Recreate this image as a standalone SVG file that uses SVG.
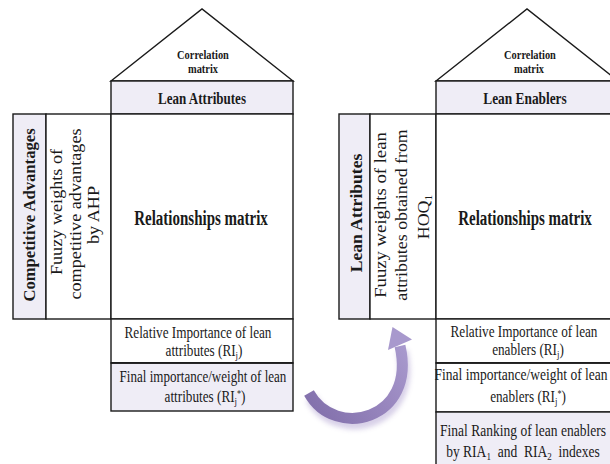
<svg xmlns="http://www.w3.org/2000/svg" width="610" height="464" viewBox="0 0 610 464">
<defs>
<style>
.ln{stroke:#1a1a1a;stroke-width:1.4;}
.wh{fill:#ffffff;}
.lv{fill:#efedf6;}
.t{font-family:"Liberation Serif","Times New Roman",serif;fill:#1a1a1a;}
.b{font-weight:bold;}
.c{text-anchor:middle;}
</style>
<linearGradient id="ag" gradientUnits="userSpaceOnUse" x1="309" y1="400" x2="405" y2="330">
<stop offset="0" stop-color="#8472ad"/>
<stop offset="0.5" stop-color="#9886be"/>
<stop offset="1" stop-color="#ab9dd0"/>
</linearGradient>
<filter id="blur" x="-20%" y="-20%" width="140%" height="140%">
<feGaussianBlur stdDeviation="2.5"/>
</filter>
</defs>
<rect x="0" y="0" width="610" height="464" fill="#ffffff"/>

<!-- LEFT HOUSE -->
<g id="roof-left">
<polygon class="wh ln" points="111,81 202,9 293,81"/>
<text class="t b c" font-size="13" transform="translate(203,59) scale(0.8,1)">Correlation</text>
<text class="t b c" font-size="13" transform="translate(203,73) scale(0.8,1)">matrix</text>
</g>
<g id="band-left">
<rect class="lv ln" x="111" y="81" width="182" height="33"/>
<text class="t b c" font-size="16.5" transform="translate(202,104) scale(0.79,1)">Lean Attributes</text>
</g>
<g id="col-competitive">
<rect class="lv ln" x="13" y="114" width="33" height="205"/>
<text class="t b c" font-size="16" transform="translate(34.5,215) rotate(-90) scale(1.04,1)">Competitive Advantages</text>
</g>
<g id="col-fuzzy-left">
<rect class="wh ln" x="46" y="114" width="65" height="205"/>
<text class="t c" font-size="17" transform="translate(62,212) rotate(-90) scale(1.07,1)">Fuuzy weights of</text>
<text class="t c" font-size="17" transform="translate(81,214) rotate(-90) scale(1.07,1)">competitive advantages</text>
<text class="t c" font-size="17" transform="translate(99,215) rotate(-90) scale(1.07,1)">by AHP</text>
</g>
<g id="matrix-left">
<rect class="wh ln" x="111" y="114" width="182" height="205"/>
<text class="t b c" font-size="20" transform="translate(201,225) scale(0.75,1)">Relationships matrix</text>
</g>
<g id="ri-left">
<rect class="wh ln" x="111" y="319" width="182" height="44"/>
<text class="t c" font-size="16.5" transform="translate(198,338) scale(0.8,1)">Relative Importance of lean</text>
<text class="t c" font-size="16.5" transform="translate(204,356) scale(0.8,1)">attributes (RI<tspan font-size="11" dy="3">j</tspan><tspan dy="-3">)</tspan></text>
</g>
<g id="fi-left">
<rect class="lv ln" x="111" y="363" width="182" height="48"/>
<line class="ln" x1="111" y1="363" x2="293" y2="363" stroke-width="2.6"/>
<text class="t c" font-size="16.5" transform="translate(203,382) scale(0.79,1)">Final importance/weight of lean</text>
<text class="t c" font-size="16.5" transform="translate(205,402) scale(0.8,1)">attributes (RI<tspan font-size="11" dy="3">j</tspan><tspan font-size="10" dy="-8">*</tspan><tspan dy="5">)</tspan></text>
</g>

<!-- RIGHT HOUSE -->
<g id="roof-right">
<polygon class="wh ln" points="436,81 527,9 618,81"/>
<text class="t b c" font-size="13" transform="translate(530,59) scale(0.8,1)">Correlation</text>
<text class="t b c" font-size="13" transform="translate(529,73) scale(0.8,1)">matrix</text>
</g>
<g id="band-right">
<rect class="lv ln" x="436" y="81" width="182" height="33"/>
<text class="t b c" font-size="16.5" transform="translate(525,104) scale(0.81,1)">Lean Enablers</text>
</g>
<g id="col-lean-attributes">
<rect class="lv ln" x="339" y="114" width="31" height="205"/>
<text class="t b c" font-size="16" transform="translate(361.5,213) rotate(-90) scale(1.1,1)">Lean Attributes</text>
</g>
<g id="col-fuzzy-right">
<rect class="wh ln" x="370" y="114" width="66" height="205"/>
<text class="t c" font-size="17" transform="translate(386,215) rotate(-90) scale(1.1,1)">Fuuzy weights of lean</text>
<text class="t c" font-size="17" transform="translate(407,215) rotate(-90) scale(1.05,1)">attributes obtained from</text>
<text class="t c" font-size="17" transform="translate(429,217) rotate(-90) scale(1.05,1)">HOQ<tspan font-size="11" dy="3">1</tspan></text>
</g>
<g id="matrix-right">
<rect class="wh ln" x="436" y="114" width="182" height="205"/>
<text class="t b c" font-size="20" transform="translate(525,225) scale(0.75,1)">Relationships matrix</text>
</g>
<g id="ri-right">
<rect class="wh ln" x="436" y="319" width="182" height="44"/>
<text class="t c" font-size="16.5" transform="translate(524,337) scale(0.8,1)">Relative Importance of lean</text>
<text class="t c" font-size="16.5" transform="translate(528,355) scale(0.8,1)">enablers (RI<tspan font-size="11" dy="3">j</tspan><tspan dy="-3">)</tspan></text>
</g>
<g id="fi-right">
<rect class="wh ln" x="436" y="363" width="182" height="49"/>
<line class="ln" x1="436" y1="363" x2="618" y2="363" stroke-width="2.6"/>
<text class="t c" font-size="16.5" transform="translate(521,380) scale(0.82,1)">Final importance/weight of lean</text>
<text class="t c" font-size="16.5" transform="translate(528,402) scale(0.8,1)">enablers (RI<tspan font-size="11" dy="3">j</tspan><tspan font-size="10" dy="-8">*</tspan><tspan dy="5">)</tspan></text>
</g>
<g id="rank-right">
<rect class="lv ln" x="436" y="412" width="182" height="60"/>
<text class="t c" font-size="16.5" transform="translate(523,436) scale(0.82,1)">Final Ranking of lean enablers</text>
<text class="t c" font-size="16.5" transform="translate(523,457) scale(0.82,1)">by RIA<tspan font-size="11" dy="3">1</tspan><tspan dy="-3">&#160; and&#160; RIA</tspan><tspan font-size="11" dy="3">2</tspan><tspan dy="-3">&#160; indexes</tspan></text>
</g>

<!-- CONNECTOR -->
<g id="connectors">
<g opacity="0.45" filter="url(#blur)" transform="translate(2,5)">
<path d="M309,393 C335,440 417,420 400,346" fill="none" stroke="#a898cc" stroke-width="12"/>
</g>
<path d="M309,393 C335,440 417,420 400,346" fill="none" stroke="url(#ag)" stroke-width="11"/>
<polygon points="388,350 412,339.5 392.5,327" fill="#a899cd"/>
</g>
</svg>
